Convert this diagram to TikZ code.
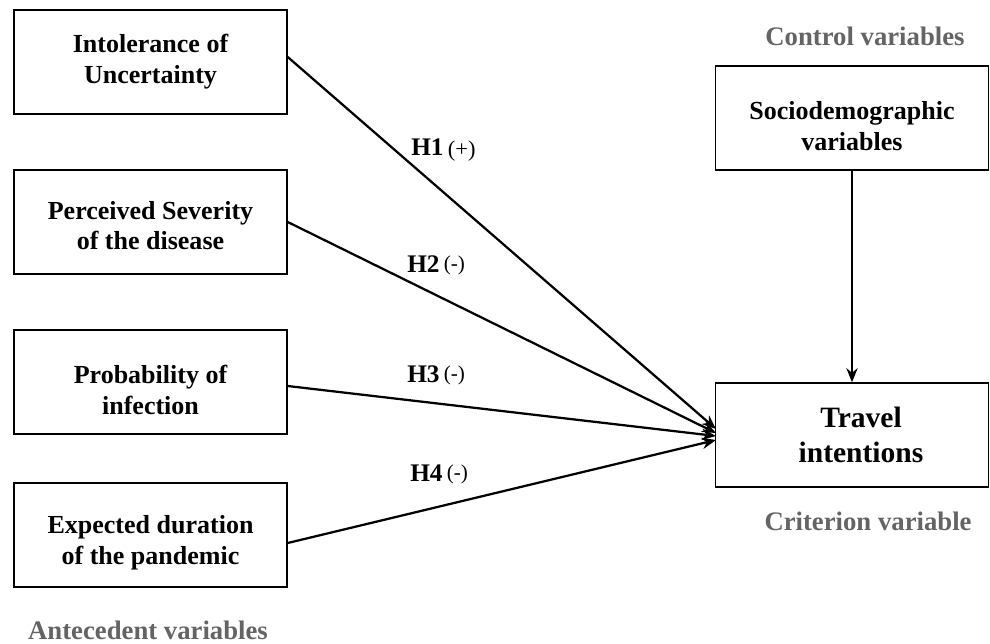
\documentclass[tikz,border=0pt]{standalone}
\usepackage{fontspec}
\setmainfont{Liberation Serif}
\usetikzlibrary{arrows.meta}

\definecolor{labelgrey}{RGB}{100,100,100}

\newlength{\pxu}
\setlength{\pxu}{0.025cm}
\tikzset{
  varbox/.style={draw, line width=1pt, minimum width=273\pxu, minimum height=104\pxu,
    align=center, font=\fontsize{18.5}{22}\selectfont\bfseries, inner sep=0pt},
  groupname/.style={text=labelgrey, font=\fontsize{19}{22}\selectfont\bfseries},
  hyp/.style={anchor=west, inner sep=0pt, font=\fontsize{18}{20}\selectfont\bfseries},
  path/.style={line width=1.6pt, -{Stealth[length=10pt,width=8pt]}}
}
\newcommand{\sgn}[1]{\raisebox{2pt}{\fontsize{15}{16}\selectfont\mdseries(#1)}}
\newcommand{\tallln}{\rule{0pt}{24pt}}

\begin{document}
\begin{tikzpicture}[x=0.025cm, y=-0.025cm]
    \useasboundingbox (0,0) rectangle (990,643);

    \node [varbox] (iu) at (150.5,62) {Intolerance of\\Uncertainty};
    \node [varbox] (ps) at (150.5,222) {\rule{0pt}{18pt}Perceived Severity\\of the disease};
    \node [varbox] (pi) at (150.5,382) {\tallln Probability of\\infection};
    \node [varbox] (ed) at (150.5,535) {\tallln Expected duration\\of the pandemic};

    \node [varbox] (sv) at (852,118) {\tallln Sociodemographic\\variables};
    \node [varbox, font=\fontsize{21}{25}\selectfont\bfseries] (ti) at (852,435) {\hspace*{18\pxu}Travel\\\hspace*{18\pxu}intentions};

    \node [groupname] (cv) at (865,36) {Control variables};
    \node [groupname] (crit) at (868,521) {Criterion variable};
    \node [groupname] (ante) at (148,630) {Antecedent variables};

    \coordinate (e1) at (716,429);
    \coordinate (e2) at (716,433);
    \coordinate (e3) at (716,436);
    \coordinate (e4) at (716,440);

    \draw [path] (iu.east |- 0,57) -- (e1);
    \draw [path] (ps.east) -- (e2);
    \draw [path] (pi.east |- 0,386) -- (e3);
    \draw [path] (ed.east |- 0,543) -- (e4);
    \draw [path] (sv.south) -- (ti.north);

    \node [hyp] (h1) at (411,150) {H1\,\raisebox{-0.5pt}{\fontsize{16}{16}\selectfont\mdseries(+)}};
    \node [hyp] (h2) at (407,265) {H2\,\sgn{-}};
    \node [hyp] (h3) at (407,375) {H3\,\sgn{-}};
    \node [hyp] (h4) at (410,474) {H4\,\sgn{-}};
\end{tikzpicture}
\end{document}
